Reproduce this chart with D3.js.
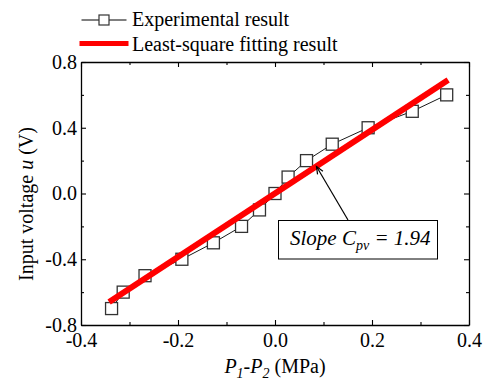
<!DOCTYPE html>
<html><head><meta charset="utf-8">
<script src="https://cdn.jsdelivr.net/npm/d3@7"></script>
<style>
body{margin:0;background:#fff;}
svg{display:block;}
</style></head>
<body>
<script>
// Data
const pressureDiff = [-0.337, -0.313, -0.268, -0.192, -0.127, -0.069, -0.032, 0.0, 0.027, 0.065, 0.118, 0.192, 0.283, 0.354];
const inputVoltage = [-0.7, -0.6, -0.5, -0.4, -0.3, -0.2, -0.1, 0.0, 0.1, 0.2, 0.3, 0.4, 0.5, 0.6];
const fitX = [-0.342, 0.357];
const fitY = [-0.66, 0.69];
const xTicks = [-0.4, -0.2, 0.0, 0.2, 0.4];
const xMinor = [-0.3, -0.1, 0.1, 0.3];
const yTicks = [-0.8, -0.4, 0.0, 0.4, 0.8];
const yMinor = [-0.6, -0.2, 0.2, 0.6];
const legendLabels = ["Experimental result", "Least-square fitting result"];
const slopeLabel = "1.94";

const FONT = '"Liberation Serif"';
const W = 483, H = 378;
const L = 81, R = 469, T = 62, B = 325;
const svg = d3.select("body").append("svg").attr("width", W).attr("height", H);
const x = d3.scaleLinear().domain([-0.4, 0.4]).range([L, R]);
const y = d3.scaleLinear().domain([-0.8, 0.8]).range([B, T]);
const fmt = d => d3.format(".1f")(d).replace("\u2212", "-");

function styleAxis(g) {
  g.attr("font-family", null);
  g.selectAll("path").attr("stroke", "#000").attr("stroke-width", 1.3);
  g.selectAll("line").attr("stroke", "#000").attr("stroke-width", 1.1);
  g.selectAll("text").style("font-family", FONT).style("font-size", "20px").attr("fill", "#000");
}

// bottom
const gb = svg.append("g").attr("transform", `translate(0,${B})`)
  .call(d3.axisBottom(x).tickValues(xTicks).tickFormat(fmt).tickSizeInner(-5).tickSizeOuter(0).tickPadding(0));
gb.selectAll("text").attr("dy", "0").attr("y", 22);
styleAxis(gb);
const gbm = svg.append("g").attr("transform", `translate(0,${B})`)
  .call(d3.axisBottom(x).tickValues(xMinor).tickFormat("").tickSizeInner(-3).tickSizeOuter(0));
gbm.select("path").remove(); styleAxis(gbm);
// top
const gt = svg.append("g").attr("transform", `translate(0,${T})`)
  .call(d3.axisTop(x).tickValues(xTicks).tickFormat("").tickSizeInner(-5).tickSizeOuter(0));
styleAxis(gt);
const gtm = svg.append("g").attr("transform", `translate(0,${T})`)
  .call(d3.axisTop(x).tickValues(xMinor).tickFormat("").tickSizeInner(-3).tickSizeOuter(0));
gtm.select("path").remove(); styleAxis(gtm);
// left
const gl = svg.append("g").attr("transform", `translate(${L},0)`)
  .call(d3.axisLeft(y).tickValues(yTicks).tickFormat(fmt).tickSizeInner(-5).tickSizeOuter(0).tickPadding(4));
styleAxis(gl);
const glm = svg.append("g").attr("transform", `translate(${L},0)`)
  .call(d3.axisLeft(y).tickValues(yMinor).tickFormat("").tickSizeInner(-3).tickSizeOuter(0));
glm.select("path").remove(); styleAxis(glm);
// right
const gr = svg.append("g").attr("transform", `translate(${R},0)`)
  .call(d3.axisRight(y).tickValues(yTicks).tickFormat("").tickSizeInner(-5).tickSizeOuter(0));
styleAxis(gr);
const grm = svg.append("g").attr("transform", `translate(${R},0)`)
  .call(d3.axisRight(y).tickValues(yMinor).tickFormat("").tickSizeInner(-3).tickSizeOuter(0));
grm.select("path").remove(); styleAxis(grm);

// experimental line
const pts = pressureDiff.map((d, i) => [d, inputVoltage[i]]);
svg.append("path").datum(pts)
  .attr("d", d3.line().x(d => x(d[0])).y(d => y(d[1])))
  .attr("fill", "none").attr("stroke", "#000").attr("stroke-width", 0.9);
const ms = 12;
svg.selectAll("rect.m").data(pts).join("rect").attr("class", "m")
  .attr("x", d => x(d[0]) - ms / 2).attr("y", d => y(d[1]) - ms / 2)
  .attr("width", ms).attr("height", ms)
  .attr("fill", "#fff").attr("stroke", "#333").attr("stroke-width", 1.3);

// fit line
svg.append("path").datum(fitX.map((d, i) => [d, fitY[i]]))
  .attr("d", d3.line().x(d => x(d[0])).y(d => y(d[1])))
  .attr("fill", "none").attr("stroke", "#ff0000").attr("stroke-width", 6);

function txt(sel) { return sel.style("font-family", FONT).attr("fill", "#000"); }

// legend
const lg = svg.append("g");
lg.append("line").attr("x1", 81.5).attr("x2", 126.5).attr("y1", 20).attr("y2", 20).attr("stroke", "#000").attr("stroke-width", 1);
lg.append("rect").attr("x", 99).attr("y", 15).attr("width", 10).attr("height", 10).attr("fill", "#fff").attr("stroke", "#333").attr("stroke-width", 1.2);
txt(lg.append("text")).attr("x", 132).attr("y", 26).style("font-size", "20px").text(legendLabels[0]);
lg.append("line").attr("x1", 79.5).attr("x2", 128.5).attr("y1", 43.5).attr("y2", 43.5).attr("stroke", "#ff0000").attr("stroke-width", 5);
txt(lg.append("text")).attr("x", 132).attr("y", 50.5).style("font-size", "20px").text(legendLabels[1]);

// annotation arrow
const ax1 = 348, ay1 = 220, ax2 = 316.5, ay2 = 166.5;
svg.append("line").attr("x1", ax1).attr("y1", ay1).attr("x2", ax2).attr("y2", ay2).attr("stroke", "#000").attr("stroke-width", 1.2);
const ang = Math.atan2(ay2 - ay1, ax2 - ax1);
const ah = 8, aw = 0.4;
svg.append("path")
  .attr("d", `M${ax2 - ah * Math.cos(ang - aw)},${ay2 - ah * Math.sin(ang - aw)}L${ax2},${ay2}L${ax2 - ah * Math.cos(ang + aw)},${ay2 - ah * Math.sin(ang + aw)}`)
  .attr("fill", "none").attr("stroke", "#000").attr("stroke-width", 1.2);
svg.append("rect").attr("x", 278.5).attr("y", 220.5).attr("width", 159).attr("height", 38.5)
  .attr("fill", "#fff").attr("stroke", "#000").attr("stroke-width", 1);
const at = txt(svg.append("text")).attr("x", 290).attr("y", 245).style("font-size", "21px").style("font-style", "italic");
at.append("tspan").text("Slope C");
at.append("tspan").style("font-size", "14px").attr("dy", 5).text("pv");
at.append("tspan").attr("dy", -5).text(" = " + slopeLabel);

// axis titles
const xt = txt(svg.append("text")).attr("x", 275).attr("y", 373).attr("text-anchor", "middle").style("font-size", "20px");
xt.append("tspan").style("font-style", "italic").text("P");
xt.append("tspan").style("font-style", "italic").style("font-size", "14px").attr("dy", 5).text("1");
xt.append("tspan").attr("dy", -5).text("-");
xt.append("tspan").style("font-style", "italic").text("P");
xt.append("tspan").style("font-style", "italic").style("font-size", "14px").attr("dy", 5).text("2");
xt.append("tspan").attr("dy", -5).text(" (MPa)");

const yt = txt(svg.append("text")).attr("transform", "translate(33,204) rotate(-90)").attr("text-anchor", "middle").style("font-size", "20px");
yt.append("tspan").text("Input voltage ");
yt.append("tspan").style("font-style", "italic").text("u");
yt.append("tspan").text(" (V)");
</script>
</body></html>
